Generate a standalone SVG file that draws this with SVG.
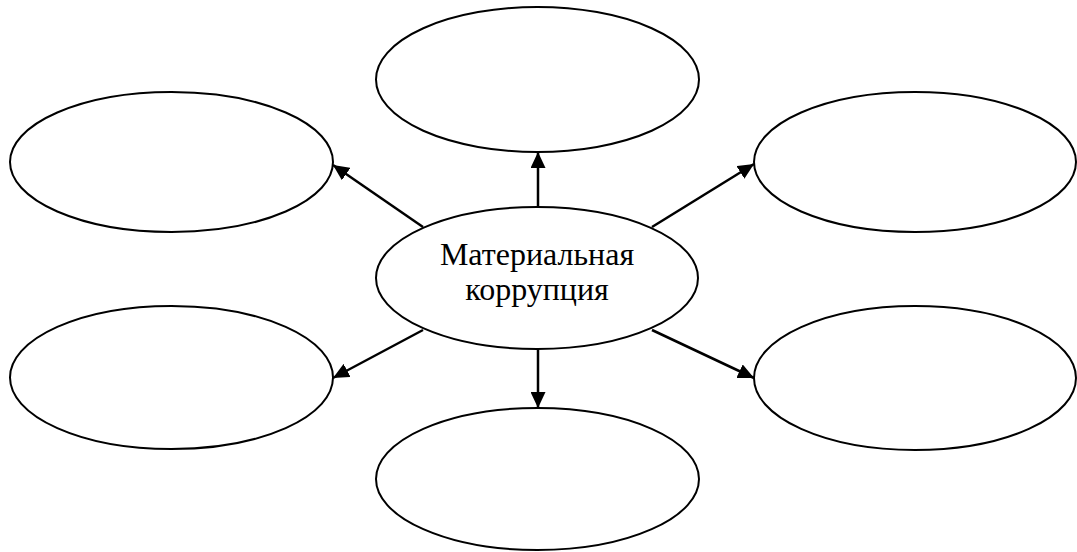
<svg xmlns="http://www.w3.org/2000/svg" width="1077" height="552" viewBox="0 0 1077 552">
<style>
.n{fill:#fff;stroke:#000;stroke-width:2}
.c{stroke:#000;stroke-width:2.5;fill:none;marker-end:url(#ah)}
.t{font-family:"Liberation Serif","Times New Roman",serif;font-size:32px;fill:#000;text-anchor:middle}
</style>
<defs>
<marker id="ah" markerUnits="userSpaceOnUse" markerWidth="16" markerHeight="15" refX="16" refY="7.5" orient="auto">
<path d="M0,0 L16,7.5 L0,15 Z" fill="#000"/>
</marker>
</defs>
<rect width="1077" height="552" fill="#fff"/>
<g id="top"><ellipse class="n" cx="537.5" cy="79.5" rx="161.5" ry="72.5"/></g>
<g id="upper-left"><ellipse class="n" cx="171.5" cy="162" rx="161.5" ry="70"/></g>
<g id="upper-right"><ellipse class="n" cx="915" cy="162" rx="161" ry="70"/></g>
<g id="lower-left"><ellipse class="n" cx="171.5" cy="377.5" rx="161.5" ry="71.5"/></g>
<g id="lower-right"><ellipse class="n" cx="915" cy="378" rx="161" ry="72"/></g>
<g id="bottom"><ellipse class="n" cx="537.5" cy="479" rx="161.5" ry="71"/></g>
<g id="connectors">
<line class="c" x1="538" y1="207" x2="538" y2="152"/>
<line class="c" x1="538" y1="349" x2="538" y2="408"/>
<line class="c" x1="423" y1="227" x2="333" y2="165"/>
<line class="c" x1="652" y1="227" x2="754" y2="164"/>
<line class="c" x1="423" y1="330" x2="333" y2="378"/>
<line class="c" x1="652" y1="330" x2="754" y2="378"/>
</g>
<g id="center">
<ellipse class="n" cx="537" cy="278" rx="161" ry="71"/>
<text class="t" x="537" y="265">Материальная</text>
<text class="t" x="537" y="300">коррупция</text>
</g>
</svg>
